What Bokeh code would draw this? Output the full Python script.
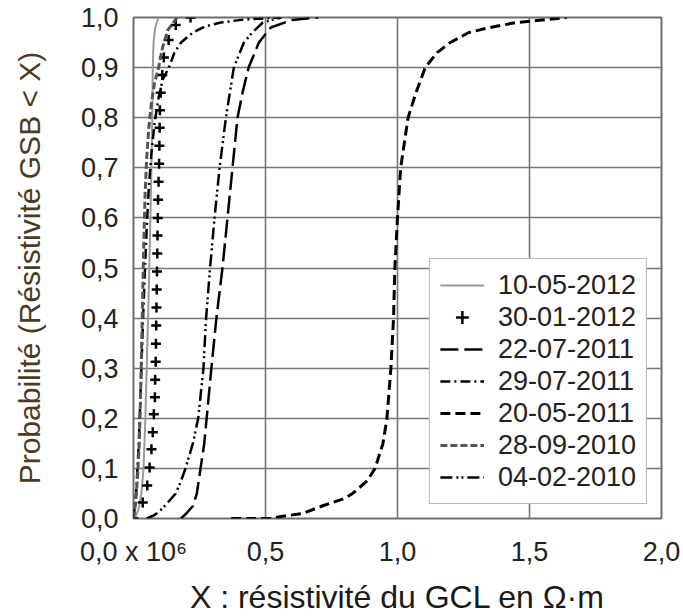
from bokeh.plotting import figure
from bokeh.models import Range1d, FixedTicker, Legend, LegendItem, CustomJSTickFormatter
from bokeh.embed import file_html
from bokeh.resources import INLINE

FONT = "Liberation Sans"

# ---- data (x in 10^6 ohm.m, y = cumulative probability) ----
x_ticks = [0.0, 0.5, 1.0, 1.5, 2.0]
y_ticks = [0.0, 0.1, 0.2, 0.3, 0.4, 0.5, 0.6, 0.7, 0.8, 0.9, 1.0]

x_10052012 = [0.005, 0.02, 0.03, 0.038, 0.045, 0.05, 0.055, 0.06, 0.064, 0.068, 0.071, 0.073, 0.076, 0.082, 0.095]
y_10052012 = [0.0, 0.02, 0.05, 0.1, 0.2, 0.3, 0.4, 0.5, 0.6, 0.7, 0.8, 0.9, 0.95, 0.98, 1.0]

x_30012012 = [0.0, 0.035, 0.052, 0.061, 0.068, 0.073, 0.077, 0.081, 0.082, 0.084, 0.085, 0.086, 0.087, 0.088, 0.089,
              0.09, 0.091, 0.092, 0.093, 0.095, 0.097, 0.098, 0.099, 0.1, 0.103, 0.109, 0.115, 0.133, 0.16, 0.216]
y_30012012 = [0.0, 0.032, 0.066, 0.102, 0.138, 0.172, 0.208, 0.242, 0.277, 0.313, 0.349, 0.385, 0.421, 0.457, 0.493,
              0.529, 0.565, 0.6, 0.636, 0.672, 0.708, 0.744, 0.78, 0.815, 0.85, 0.885, 0.92, 0.955, 0.985, 1.0]

x_22072011 = [0.18, 0.2, 0.225, 0.24, 0.254, 0.268, 0.277, 0.295, 0.314, 0.337, 0.356, 0.375, 0.394, 0.413, 0.436, 0.475, 0.52, 0.6, 0.7]
y_22072011 = [0.0, 0.01, 0.025, 0.05, 0.1, 0.15, 0.2, 0.3, 0.4, 0.5, 0.6, 0.7, 0.8, 0.85, 0.9, 0.95, 0.98, 0.995, 1.0]

x_29072011 = [0.0, 0.01, 0.02, 0.028, 0.035, 0.042, 0.05, 0.058, 0.068, 0.08, 0.095, 0.11, 0.138, 0.155, 0.18, 0.225, 0.27, 0.33, 0.42, 0.55]
y_29072011 = [0.0, 0.05, 0.15, 0.27, 0.38, 0.48, 0.58, 0.66, 0.73, 0.79, 0.84, 0.875, 0.905, 0.93, 0.95, 0.97, 0.982, 0.99, 0.996, 1.0]

x_20052011 = [0.37, 0.52, 0.56, 0.64, 0.72, 0.8, 0.83, 0.885, 0.915, 0.945, 0.96, 0.975, 0.985, 0.99, 1.0, 1.012, 1.04, 1.07, 1.105, 1.15, 1.2, 1.27, 1.35, 1.45, 1.64]
y_20052011 = [0.0, 0.0, 0.004, 0.01, 0.026, 0.04, 0.05, 0.075, 0.1, 0.15, 0.2, 0.3, 0.4, 0.5, 0.6, 0.7, 0.8, 0.85, 0.9, 0.93, 0.95, 0.97, 0.98, 0.99, 1.0]

x_28092010 = [0.0, 0.008, 0.015, 0.022, 0.027, 0.031, 0.035, 0.039, 0.044, 0.05, 0.058, 0.068, 0.08, 0.095, 0.11, 0.13, 0.165]
y_28092010 = [0.0, 0.03, 0.08, 0.15, 0.25, 0.35, 0.45, 0.55, 0.65, 0.72, 0.78, 0.83, 0.87, 0.9, 0.94, 0.975, 1.0]

x_04022010 = [0.05, 0.08, 0.11, 0.135, 0.16, 0.18, 0.197, 0.225, 0.245, 0.265, 0.275, 0.29, 0.307, 0.326, 0.35, 0.38, 0.418, 0.45, 0.49, 0.56]
y_04022010 = [0.0, 0.007, 0.02, 0.035, 0.05, 0.075, 0.1, 0.15, 0.2, 0.3, 0.4, 0.5, 0.6, 0.7, 0.8, 0.9, 0.95, 0.97, 0.99, 1.0]

p = figure(frame_width=528, frame_height=501,
           x_range=Range1d(0, 2), y_range=Range1d(0, 1),
           output_backend="svg", toolbar_location=None,
           min_border_left=133, min_border_top=17, min_border_right=20, min_border_bottom=96,
           background_fill_color="white", border_fill_color="white")

# axes
p.xaxis.ticker = FixedTicker(ticks=x_ticks)
p.yaxis.ticker = FixedTicker(ticks=y_ticks)
p.xgrid.ticker = FixedTicker(ticks=x_ticks)
p.ygrid.ticker = FixedTicker(ticks=y_ticks)
p.xaxis.formatter = CustomJSTickFormatter(
    code="return tick == 0 ? '0,0 x 10\u2076' : tick.toFixed(1).replace('.', ',');")
p.yaxis.formatter = CustomJSTickFormatter(code="return tick.toFixed(1).replace('.', ',');")
for ax in (p.xaxis, p.yaxis):
    ax.axis_line_color = None
    ax.major_tick_line_color = None
    ax.minor_tick_line_color = None
    ax.major_label_text_font = FONT
    ax.major_label_text_font_size = "27px"
    ax.major_label_text_color = "#222222"
    ax.axis_label_text_font = FONT
    ax.axis_label_text_font_style = "normal"
p.yaxis.major_label_standoff = 9
p.xaxis.major_label_standoff = 12
p.xaxis.axis_label = "X : résistivité du GCL en Ω·m"
p.xaxis.axis_label_text_font_size = "32px"
p.xaxis.axis_label_text_color = "#1a1a1a"
p.xaxis.axis_label_standoff = 9
p.yaxis.axis_label = "Probabilité (Résistivité GSB < X)"
p.yaxis.axis_label_text_font_size = "30px"
p.yaxis.axis_label_text_color = "#4a3c22"
p.yaxis.axis_label_standoff = 32

p.grid.grid_line_color = "#767676"
p.grid.grid_line_width = 1.6
p.outline_line_color = "#6e6e6e"
p.outline_line_width = 2

# curves
r1 = p.line(x_10052012, y_10052012, line_color="#9a9a9a", line_width=2)
r2 = p.scatter(x_30012012, y_30012012, marker="cross", size=10, line_color="black", line_width=2.5)
r3 = p.line(x_22072011, y_22072011, line_color="black", line_width=2.5, line_dash="18 6")
r4 = p.line(x_29072011, y_29072011, line_color="black", line_width=2.5, line_dash="10 4 2 4")
r5 = p.line(x_20052011, y_20052011, line_color="black", line_width=3, line_dash="10 5")
r6 = p.line(x_28092010, y_28092010, line_color="#555555", line_width=3, line_dash="7 3")
r7 = p.line(x_04022010, y_04022010, line_color="black", line_width=2.5, line_dash="12 4 2 3 2 4")

legend = Legend(items=[
    LegendItem(label="10-05-2012", renderers=[r1]),
    LegendItem(label="30-01-2012", renderers=[r2]),
    LegendItem(label="22-07-2011", renderers=[r3]),
    LegendItem(label="29-07-2011", renderers=[r4]),
    LegendItem(label="20-05-2011", renderers=[r5]),
    LegendItem(label="28-09-2010", renderers=[r6]),
    LegendItem(label="04-02-2010", renderers=[r7]),
], location="bottom_right")
legend.label_text_font = FONT
legend.label_text_font_size = "27px"
legend.label_text_color = "#222222"
legend.glyph_width = 44
legend.glyph_height = 32
legend.label_height = 32
legend.spacing = 0
legend.padding = 10
legend.margin = 14
legend.label_standoff = 14
legend.border_line_color = "#707070"
legend.border_line_width = 1.5
legend.background_fill_alpha = 1
p.add_layout(legend)

open("out.html", "w").write(file_html(p, INLINE))
